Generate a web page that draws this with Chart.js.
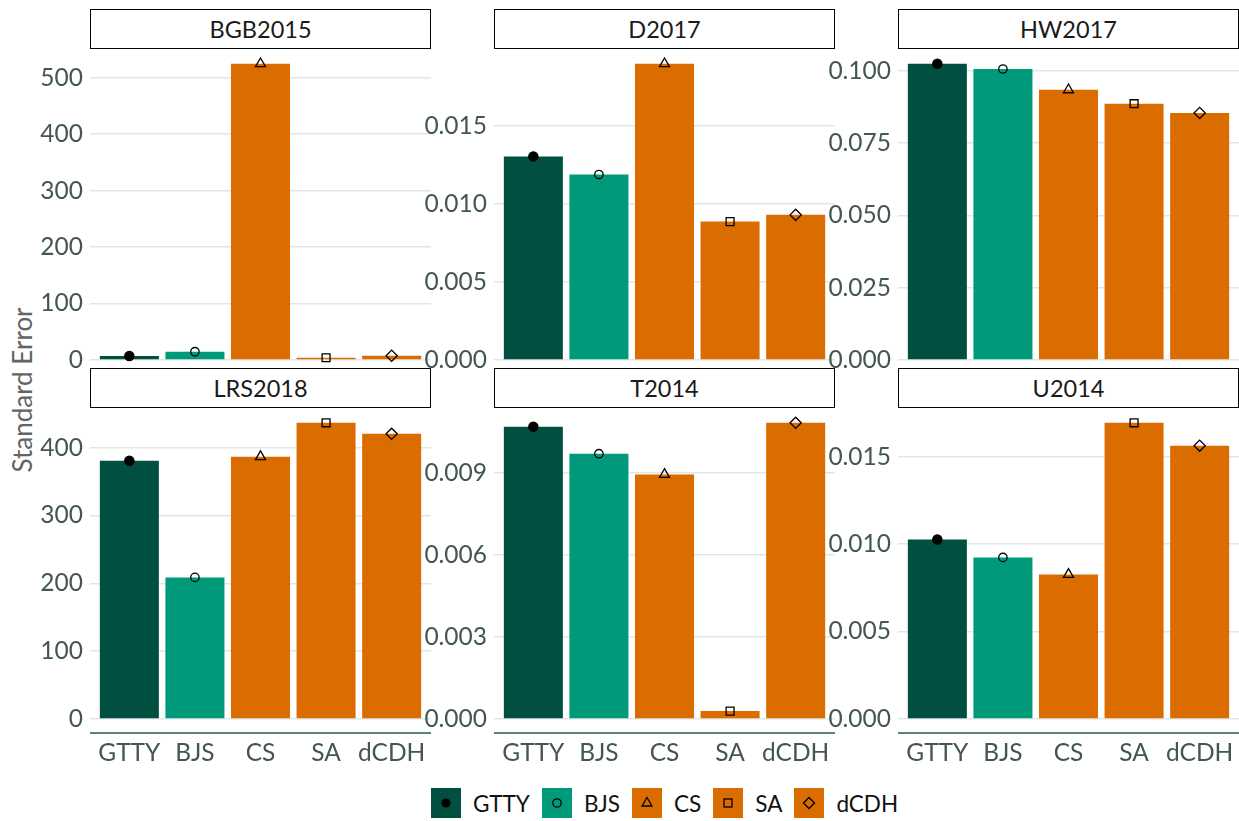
<!DOCTYPE html>
<html>
<head>
<meta charset="utf-8">
<script src="https://cdn.jsdelivr.net/npm/chart.js@4.4.1/dist/chart.umd.min.js"></script>
<style>
  html, body { margin: 0; padding: 0; background: #ffffff; }
  body { width: 1239px; height: 821px; position: relative; overflow: hidden; font-family: 'Lato', 'Open Sans', sans-serif; }
  canvas { position: absolute; }
  .strip { position: absolute; box-sizing: border-box; border: 1.5px solid #000; background: #fff;
           height: 40px; width: 341px; display: flex; align-items: center; justify-content: center;
           font-size: 23.5px; color: #1a1a1a; }
  #ytitle { position: absolute; left: 22px; top: 390px; transform: translate(-50%, -50%) rotate(-90deg);
            font-size: 26px; color: #5f6663; white-space: nowrap; }
  #legend { position: absolute; left: 90px; width: 1149px; top: 788px; height: 30px; display: flex;
            justify-content: center; align-items: center; font-size: 22.5px; color: #111; }
  .item { display: flex; align-items: center; margin: 0 6px; }
  .key { width: 30px; height: 30px; margin-right: 12px; }
</style>
</head>
<body>
<div id="ytitle">Standard Error</div>
<div id="legend"></div>
<script>
// ---- data ----
const categories = ['GTTY', 'BJS', 'CS', 'SA', 'dCDH'];
const panelNames = ['BGB2015', 'D2017', 'HW2017', 'LRS2018', 'T2014', 'U2014'];

const BGB2015 = [7, 14.7, 524.8, 4, 7.6];
const D2017   = [0.01306, 0.0119, 0.0190, 0.00888, 0.00931];
const HW2017  = [0.1024, 0.1006, 0.0934, 0.0886, 0.0854];
const LRS2018 = [380.9, 208.8, 386.8, 436.8, 420.6];
const T2014   = [0.01069, 0.00970, 0.00894, 0.00029, 0.01083];
const U2014   = [0.01027, 0.00924, 0.00827, 0.01694, 0.01563];

const ticksBGB2015 = ['0', '100', '200', '300', '400', '500'];
const ticksD2017   = ['0.000', '0.005', '0.010', '0.015'];
const ticksHW2017  = ['0.000', '0.025', '0.050', '0.075', '0.100'];
const ticksLRS2018 = ['0', '100', '200', '300', '400'];
const ticksT2014   = ['0.000', '0.003', '0.006', '0.009'];
const ticksU2014   = ['0.000', '0.005', '0.010', '0.015'];

// ---- styling ----
const barColors = ['#004F40', '#009A7A', '#DA6C00', '#DA6C00', '#DA6C00'];
const pointStyles = ['circle', 'circle', 'triangle', 'rect', 'rectRot'];
const pointFilled = [true, false, false, false, false];
const pointRadii = [4.6, 4.2, 5.8, 5.6, 5.6];
const FONT = "'Lato', 'Open Sans', sans-serif";
const TICK_SIZE = 24.5;
const axisColor = '#43574f';
const gridColor = '#dfe8e5';

const panels = [
  { name: panelNames[0], values: BGB2015, ticks: ticksBGB2015 },
  { name: panelNames[1], values: D2017,   ticks: ticksD2017 },
  { name: panelNames[2], values: HW2017,  ticks: ticksHW2017 },
  { name: panelNames[3], values: LRS2018, ticks: ticksLRS2018 },
  { name: panelNames[4], values: T2014,   ticks: ticksT2014 },
  { name: panelNames[5], values: U2014,   ticks: ticksU2014 },
];

const colLeft = [90, 494, 898];
const rowStripTop = [9, 368];
const plotW = 341, plotH = 311, yAxisW = 90, pad = 22;

const axisLinePlugin = {
  id: 'axisLine',
  afterDraw(chart, args, opts) {
    if (!opts.show) return;
    const { ctx, chartArea } = chart;
    ctx.save();
    ctx.strokeStyle = '#1f5c4f';
    ctx.lineWidth = 1.5;
    ctx.beginPath();
    ctx.moveTo(chartArea.left, chartArea.bottom + 14);
    ctx.lineTo(chartArea.right, chartArea.bottom + 14);
    ctx.stroke();
    ctx.restore();
  }
};

panels.forEach((p, idx) => {
  const col = idx % 3, row = Math.floor(idx / 3);
  const showX = row === 1;
  const plotTop = rowStripTop[row] + 40;

  const strip = document.createElement('div');
  strip.className = 'strip';
  strip.style.left = colLeft[col] + 'px';
  strip.style.top = rowStripTop[row] + 'px';
  strip.textContent = p.name;

  const canvas = document.createElement('canvas');
  const cw = yAxisW + plotW;
  const ch = pad + plotH + (showX ? 50 : pad);
  canvas.width = cw; canvas.height = ch;
  canvas.style.width = cw + 'px'; canvas.style.height = ch + 'px';
  canvas.style.left = (colLeft[col] - yAxisW) + 'px';
  canvas.style.top = (plotTop - pad) + 'px';
  document.body.appendChild(canvas);
  document.body.appendChild(strip);

  const tickVals = p.ticks.map(Number);
  const maxV = Math.max(...p.values) * 1.05;

  const datasets = [{
    type: 'bar',
    data: p.values.map((v, i) => ({ x: i + 1, y: v })),
    backgroundColor: barColors,
    borderWidth: 0,
    barPercentage: 1,
    categoryPercentage: 0.9,
    order: 2
  }];
  categories.forEach((c, i) => {
    datasets.push({
      type: 'scatter',
      label: c,
      data: [{ x: i + 1, y: p.values[i] }],
      pointStyle: pointStyles[i],
      pointRadius: pointRadii[i],
      pointBackgroundColor: pointFilled[i] ? '#000' : 'rgba(0,0,0,0)',
      pointBorderColor: '#000',
      pointBorderWidth: 1.3,
      clip: false,
      order: 1
    });
  });

  new Chart(canvas, {
    data: { datasets },
    plugins: [axisLinePlugin],
    options: {
      responsive: false,
      animation: false,
      devicePixelRatio: 1,
      layout: { autoPadding: false, padding: { top: pad, bottom: showX ? 0 : pad, left: 0, right: 0 } },
      plugins: { legend: { display: false }, tooltip: { enabled: false }, axisLine: { show: showX } },
      scales: {
        x: {
          type: 'linear', min: 0.4, max: 5.6, display: showX, offset: false,
          grid: { display: false, offset: false }, border: { display: false },
          afterBuildTicks: s => { s.ticks = categories.map((c, i) => ({ value: i + 1 })); },
          afterFit: s => { s.height = showX ? 50 : 0; s.paddingLeft = 0; s.paddingRight = 0; },
          ticks: { callback: v => categories[v - 1], padding: 11, color: axisColor,
                   font: { family: FONT, size: TICK_SIZE }, maxRotation: 0, autoSkip: false }
        },
        y: {
          min: 0, max: maxV,
          afterBuildTicks: s => { s.ticks = tickVals.map(v => ({ value: v })); },
          afterFit: s => { s.width = yAxisW; },
          grid: { color: gridColor, lineWidth: 1.6, drawTicks: false },
          border: { display: false },
          ticks: { callback: (v, i) => p.ticks[i], padding: 7, color: axisColor,
                   font: { family: FONT, size: TICK_SIZE } }
        }
      }
    }
  });
});

// ---- legend ----
const legend = document.getElementById('legend');
const markerSvg = [
  '<circle cx="15" cy="15" r="4.6" fill="#000"/>',
  '<circle cx="15" cy="15" r="4.2" fill="none" stroke="#000" stroke-width="1.3"/>',
  '<polygon points="15,9.5 20,18 10,18" fill="none" stroke="#000" stroke-width="1.3"/>',
  '<rect x="11" y="11" width="8" height="8" fill="none" stroke="#000" stroke-width="1.3"/>',
  '<polygon points="15,9.5 20.5,15 15,20.5 9.5,15" fill="none" stroke="#000" stroke-width="1.3"/>'
];
categories.forEach((c, i) => {
  const item = document.createElement('div');
  item.className = 'item';
  item.innerHTML = '<svg class="key" viewBox="0 0 30 30"><rect width="30" height="30" fill="' + barColors[i] + '"/>' +
    markerSvg[i] + '</svg><span>' + c + '</span>';
  legend.appendChild(item);
});
</script>
</body>
</html>
